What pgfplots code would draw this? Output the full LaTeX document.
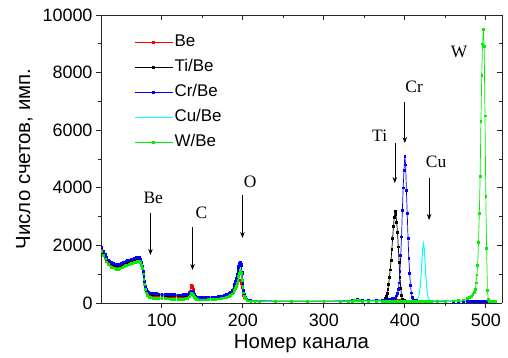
\documentclass[border=0pt]{standalone}
\usepackage{fontspec}
\setmainfont{Liberation Sans}
\newfontfamily\timesf{Liberation Serif}
\usepackage{pgfplots}
\usepackage{pgfplotstable}
\pgfplotsset{compat=1.18}
\usetikzlibrary{arrows.meta}
\definecolor{cRed}{RGB}{255,0,0}
\definecolor{cBlue}{RGB}{0,0,255}
\definecolor{cCyan}{RGB}{0,255,255}
\definecolor{cGreen}{RGB}{0,240,0}

\pgfplotstableread{
ch be ti cr cu w
26 1880 1920 1950 1850 1800
28 1730 1770 1800 1700 1650
30 1610 1650 1680 1580 1530
32 1510 1550 1580 1480 1430
34 1430 1470 1500 1400 1350
36 1370 1410 1440 1340 1290
38 1330 1370 1400 1300 1250
40 1300 1340 1370 1270 1220
42 1275 1315 1345 1245 1195
44 1260 1300 1330 1230 1180
46 1260 1300 1330 1230 1180
48 1275 1315 1345 1245 1195
50 1300 1340 1370 1270 1220
52 1330 1370 1400 1300 1250
54 1360 1400 1430 1330 1280
56 1385 1425 1455 1355 1305
58 1405 1445 1475 1375 1325
60 1425 1465 1495 1395 1345
62 1445 1485 1515 1415 1365
64 1465 1505 1535 1435 1385
66 1490 1525 1555 1455 1405
68 1520 1545 1575 1475 1425
70 1550 1560 1590 1490 1440
72 1560 1555 1585 1495 1450
74 1500 1490 1520 1440 1400
75 1420 1390 1420 1350 1320
76 1290 1250 1280 1220 1190
77 1110 1070 1100 1040 1010
78 920 890 920 860 830
79 740 710 740 680 640
80 580 560 590 520 470
81 460 450 480 400 350
82 380 390 420 320 270
84 310 340 370 260 210
86 290 320 350 240 190
88 275 310 340 230 180
90 270 305 335 225 175
93 260 295 325 215 165
96 250 288 318 210 160
100 245 280 310 205 155
104 240 273 303 200 150
108 232 267 297 195 145
112 228 262 292 190 140
116 223 258 288 185 135
120 220 255 285 182 132
124 222 255 285 185 135
127 230 260 290 190 140
130 245 268 298 200 150
132 290 285 315 220 175
134 390 315 345 260 215
136 540 360 385 320 290
137 625 390 420 360 330
138 590 380 405 350 320
139 470 330 360 300 270
140 320 275 300 240 205
141 240 230 250 190 160
142 190 195 215 160 130
144 160 175 200 145 115
147 155 170 195 140 110
150 155 168 195 140 110
154 158 170 197 142 112
158 162 175 202 146 116
162 168 180 208 152 122
166 175 188 216 160 130
170 190 200 230 175 145
174 205 220 250 190 160
177 225 240 270 210 180
180 250 270 300 235 205
183 285 315 345 270 240
185 320 360 390 300 270
187 370 430 460 350 320
189 440 530 560 420 380
190 490 610 640 480 430
191 550 710 740 550 500
192 610 830 860 640 580
193 680 960 990 740 670
194 740 1100 1130 860 790
195 790 1250 1280 1000 920
196 800 1360 1390 1130 1040
197 770 1380 1420 1200 1090
198 690 1290 1330 1130 1030
199 540 1030 1060 880 800
200 380 680 700 580 530
201 260 430 450 380 350
202 190 290 300 260 240
203 150 200 210 180 170
205 110 130 140 100 90
207 90 100 105 85 75
210 75 80 85 72 65
215 68 72 75 66 60
220 64 68 70 62 58
240 60 63 65 58 55
260 58 60 62 56 53
280 57 58 60 55 52
300 58 60 62 56 53
320 63 66 68 60 57
330 70 73 75 65 62
335 80 83 85 72 68
338 100 105 110 85 80
341 120 125 130 95 88
344 100 105 110 85 80
348 88 92 95 75 70
355 85 90 92 72 68
365 88 93 95 73 68
372 90 100 100 75 70
374 90 110 103 75 70
376 92 170 106 74 70
377 92 230 108 74 70
378 92 330 110 74 69
379 92 470 115 74 69
380 92 650 118 74 69
381 92 880 121 74 69
382 92 1150 125 74 68
383 91 1480 132 74 68
384 91 1850 140 73 68
385 90 2250 150 73 68
386 90 2650 160 73 67
387 89 2980 170 73 67
388 88 3170 180 73 67
389 87 3080 210 72 67
390 86 2800 250 72 66
391 85 2450 330 72 66
392 84 1950 470 72 66
393 82 1400 700 72 65
394 80 900 1100 71 65
395 78 500 1650 71 65
396 76 260 2300 71 65
397 74 140 3230 71 64
398 72 110 4000 70 64
399 70 85 4600 70 64
400 68 75 5100 70 64
401 66 70 4800 70 63
402 65 68 3920 70 63
403 64 66 3110 70 63
404 63 65 2250 70 63
405 62 65 1550 70 63
406 61 64 1040 70 62
407 60 64 620 70 62
408 60 63 350 70 62
409 60 63 200 70 62
410 60 62 130 72 62
412 59 62 90 75 62
414 59 61 80 90 62
415 59 61 78 110 62
416 59 61 76 150 62
417 59 61 75 200 62
418 59 61 74 330 62
419 58 60 73 560 62
420 58 60 72 900 62
421 58 60 71 1380 62
422 58 60 70 1850 62
423 58 60 70 2070 62
424 58 60 70 1900 62
425 58 60 70 1450 63
426 58 60 69 950 63
427 58 60 69 560 63
428 58 60 68 300 63
429 58 60 68 170 63
430 58 60 67 110 64
433 57 59 66 75 64
440 57 59 65 65 65
450 56 58 64 60 68
460 56 58 63 58 72
466 55 57 62 57 80
472 55 57 61 56 110
477 55 57 61 56 150
480 55 56 60 55 190
482 55 56 60 55 240
484 55 56 60 55 300
486 54 56 59 55 380
487 54 56 59 54 480
488 54 55 59 54 700
489 54 55 59 54 980
490 54 55 59 54 1320
491 54 55 58 54 2100
492 53 55 58 54 3100
493 53 55 58 54 4400
494 53 55 58 53 6300
495 53 55 58 53 7900
496 53 54 58 53 9000
497 53 54 57 53 9490
498 53 54 57 53 8900
499 53 54 57 53 6500
500 52 54 57 53 3690
501 52 54 57 53 1910
502 52 54 57 53 450
503 52 53 56 52 130
504 52 53 56 52 70
506 51 53 56 52 55
508 51 53 55 52 52
510 50 52 55 51 50
512 50 52 54 51 50
}\spectra

\begin{document}
\begin{tikzpicture}
\useasboundingbox (-101bp,-55bp) rectangle (407bp,303bp);
\begin{axis}[
  at={(0,0)}, anchor=south west,
  scale only axis, width=401bp, height=288bp,
  xmin=25, xmax=520, ymin=0, ymax=10000,
  axis x line*=bottom, axis y line*=left,
  axis line style={line width=0.9bp, black!85},
  tick align=outside,
  tick style={line width=0.8bp, black!85},
  xtick={100,200,300,400,500}, minor x tick num=1,
  ytick={0,2000,4000,6000,8000,10000}, minor y tick num=1,
  major tick length=5bp, minor tick length=3bp,
  scaled ticks=false,
  /pgf/number format/1000 sep={},
  /pgf/number format/assume math mode=true,
  tick label style={font=\fontsize{18}{18}\selectfont},
  xticklabel style={yshift=-2bp},
  xlabel={Номер канала}, ylabel={Число счетов, имп.},
  label style={font=\fontsize{20.5}{21}\selectfont},
  xlabel style={yshift=-1bp},
  ylabel style={yshift=3bp},
  legend style={draw=none, fill=none, inner sep=0pt,
    at={(rel axis cs:0.082,0.935)}, anchor=north west,
    font=\fontsize{17}{17}\selectfont,
    nodes={inner sep=1.5bp, text height=11bp, text depth=3bp},
    row sep=8bp},
  legend cell align=left,
  legend image code/.code={\draw[mark repeat=2,mark phase=2] plot coordinates {(0bp,0bp) (19bp,0bp) (38bp,0bp)};},
  every axis plot/.append style={line width=0.7bp, mark size=0.9bp, mark options={solid}},
]
\addplot[cRed, mark=square*] table[x=ch,y=be] {\spectra};
\addlegendentry{Be}
\addplot[black, mark=square*] table[x=ch,y=ti] {\spectra};
\addlegendentry{Ti/Be}
\addplot[cBlue, mark=square*] table[x=ch,y=cr] {\spectra};
\addlegendentry{Cr/Be}
\addplot[cCyan, mark=none, line width=1bp] table[x=ch,y=cu] {\spectra};
\addlegendentry{Cu/Be}
\addplot[cGreen, mark=square*] table[x=ch,y=w] {\spectra};
\addlegendentry{W/Be}

\begin{scope}[line width=0.6bp, -{Stealth[length=6bp,width=4.5bp]}]
\draw (axis cs:86,3135) -- (axis cs:86,1667);
\draw (axis cs:138,2639) -- (axis cs:138,1146);
\draw (axis cs:199.6,3750) -- (axis cs:199.6,2257);
\draw (axis cs:387.7,5555) -- (axis cs:387.7,4166);
\draw (axis cs:400,6989) -- (axis cs:400,5555);
\draw (axis cs:430,4340) -- (axis cs:430,2882);
\end{scope}
\begin{scope}[every node/.style={font=\timesf\fontsize{17.5}{17.5}\selectfont, inner sep=0pt}]
\node at (axis cs:89.5,3635) {Be};
\node at (axis cs:149,3135) {C};
\node at (axis cs:209,4212) {O};
\node at (axis cs:369,5798) {Ti};
\node at (axis cs:411.5,7500) {Cr};
\node at (axis cs:438.6,4896) {Cu};
\node at (axis cs:467,8725) {W};
\end{scope}
\end{axis}
\begin{axis}[
  at={(0,0)}, anchor=south west,
  scale only axis, width=401bp, height=288bp,
  xmin=25, xmax=520, ymin=0, ymax=10000,
  axis x line*=top, axis y line*=right,
  axis line style={line width=0.9bp, black!85},
  tick align=inside,
  tick style={line width=0.8bp, black!85},
  xtick={100,200,300,400,500}, minor x tick num=1,
  ytick={0,2000,4000,6000,8000,10000}, minor y tick num=1,
  major tick length=5bp, minor tick length=3bp,
  scaled ticks=false,
  xticklabels={}, yticklabels={},
]
\end{axis}
\end{tikzpicture}
\end{document}
